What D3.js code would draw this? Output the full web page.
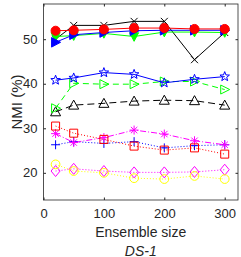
<!doctype html>
<html>
<head>
    <meta charset="UTF-8">
    <title>DS-1</title>
    <script src="https://d3js.org/d3.v7.min.js"></script>
    <style>
        body { margin: 0; background: #fff; }
        text { font-family: "Liberation Sans", Arial, sans-serif; fill: #262626; }
    </style>
</head>
<body>
<svg width="241" height="257"></svg>
<script>
    // ensemble sizes
    var sizes = [20, 50, 100, 150, 200, 250, 300];
    var xTicks = [0, 100, 200, 300];
    var yTicks = [20, 30, 40, 50];

    // NMI (%) per method
    var redCircle   = [51.9, 52.0, 52.2, 52.5, 52.5, 52.3, 52.3];
    var blackX      = [50.0, 53.1, 53.1, 54.0, 54.0, 45.4, 51.5];
    var blueTriR    = [49.3, 51.0, 51.5, 51.9, 52.0, 52.0, 52.0];
    var greenTriD   = [50.6, 50.8, 51.3, 50.6, 51.6, 51.6, 51.5];
    var blueStar    = [40.8, 41.3, 42.5, 42.1, 40.2, 41.0, 41.6];
    var greenTriO   = [34.5, 40.1, 39.9, 39.9, 40.5, 40.5, 38.7];
    var blackTriUp  = [33.7, 35.2, 35.6, 36.1, 36.3, 36.2, 35.2];
    var redSquare   = [30.5, 28.9, 27.5, 26.0, 25.1, 25.6, 24.2];
    var magStar     = [28.8, 26.8, 27.9, 29.6, 28.7, 27.2, 26.3];
    var bluePlus    = [26.3, 27.0, 26.6, 27.0, 25.6, 26.1, 26.3];
    var yellowO     = [21.9, 20.4, 20.0, 18.8, 18.6, 19.3, 18.6];
    var magDiamond  = [20.4, 20.9, 20.4, 20.1, 20.1, 20.2, 20.7];

    var svg = d3.select("svg");
    var pLeft = 43.5, pRight = 238, pTop = 4, pBottom = 200;

    var x = d3.scaleLinear().domain([0, 322]).range([pLeft, pRight]);
    var y = d3.scaleLinear().domain([13.9, 57.9]).range([pBottom, pTop]);

    // marker shapes
    function star(ro, ri) {
        var p = [];
        for (var i = 0; i < 10; i++) {
            var r = i % 2 ? ri : ro, a = Math.PI * i / 5 - Math.PI / 2;
            p.push([r * Math.cos(a), r * Math.sin(a)]);
        }
        return "M" + p.join("L") + "Z";
    }
    var shapes = {
        circle: d3.symbol(d3.symbolCircle, 64)(),
        circleO: d3.symbol(d3.symbolCircle, 60)(),
        x: "M-3.5,-3.5L3.5,3.5M-3.5,3.5L3.5,-3.5",
        triR: "M-4,-4.8L5,0L-4,4.8Z",
        triD: "M-4.5,-3.8L4.5,-3.8L0,4.8Z",
        star: star(5, 2.1),
        triRO: "M-4,-4.5L5,0L-4,4.5Z",
        triUp: "M0,-5L5,4L-5,4Z",
        square: "M-4,-4L4,-4L4,4L-4,4Z",
        asterisk: "M-4.5,0L4.5,0M0,-4.5L0,4.5M-3.2,-3.2L3.2,3.2M-3.2,3.2L3.2,-3.2",
        plus: "M-4.5,0L4.5,0M0,-4.5L0,4.5",
        diamond: "M0,-5.5L4.5,0L0,5.5L-4.5,0Z"
    };

    var series = [
        {v: magDiamond, c: "#ff00ff", dash: "1,2", m: "diamond", fill: false},
        {v: yellowO, c: "#ffff00", dash: "1,2", m: "circleO", fill: false},
        {v: bluePlus, c: "#0000ff", dash: "1,2", m: "plus", fill: false},
        {v: magStar, c: "#ff00ff", dash: "6,2,1,2", m: "asterisk", fill: false},
        {v: redSquare, c: "#ff0000", dash: "1,2", m: "square", fill: false},
        {v: blackTriUp, c: "#000000", dash: "7,4", m: "triUp", fill: false},
        {v: greenTriO, c: "#00ff00", dash: "6,4", m: "triRO", fill: false},
        {v: blueStar, c: "#0000ff", dash: null, m: "star", fill: false},
        {v: blackX, c: "#000000", dash: null, m: "x", fill: false},
        {v: greenTriD, c: "#00ff00", dash: null, m: "triD", fill: true},
        {v: blueTriR, c: "#0000ff", dash: null, m: "triR", fill: true},
        {v: redCircle, c: "#ff0000", dash: null, m: "circle", fill: true}
    ];

    var line = d3.line().x(function(d, i){ return x(sizes[i]); }).y(function(d){ return y(d); });

    series.forEach(function(s){
        svg.append("path")
           .attr("d", line(s.v))
           .attr("fill", "none")
           .attr("stroke", s.c)
           .attr("stroke-width", 1)
           .attr("stroke-dasharray", s.dash);
        svg.selectAll(null).data(s.v).enter()
           .append("path")
           .attr("transform", function(d, i){ return "translate(" + x(sizes[i]) + "," + y(d) + ")"; })
           .attr("d", shapes[s.m])
           .attr("fill", s.fill ? s.c : "none")
           .attr("stroke", s.c)
           .attr("stroke-width", 1);
    });

    // axes box with inward ticks
    var axisColor = "#262626";
    function styleAxis(g, labels) {
        g.select(".domain").remove();
        g.selectAll(".tick line").attr("stroke", axisColor);
        g.selectAll(".tick text").style("font-size", "13px").attr("fill", axisColor);
        if (!labels) g.selectAll(".tick text").remove();
    }
    svg.append("g").attr("transform", "translate(0," + pBottom + ")")
       .call(d3.axisBottom(x).tickValues(xTicks).tickSizeInner(-2.5).tickSizeOuter(0).tickPadding(9))
       .call(styleAxis, true);
    svg.append("g").attr("transform", "translate(0," + pTop + ")")
       .call(d3.axisTop(x).tickValues(xTicks).tickSizeInner(-2.5).tickSizeOuter(0))
       .call(styleAxis, false);
    svg.append("g").attr("transform", "translate(" + pLeft + ",0)")
       .call(d3.axisLeft(y).tickValues(yTicks).tickSizeInner(-2.5).tickSizeOuter(0).tickPadding(6))
       .call(styleAxis, true);
    svg.append("g").attr("transform", "translate(" + pRight + ",0)")
       .call(d3.axisRight(y).tickValues(yTicks).tickSizeInner(-2.5).tickSizeOuter(0))
       .call(styleAxis, false);

    svg.append("rect")
       .attr("x", pLeft).attr("y", pTop)
       .attr("width", pRight - pLeft).attr("height", pBottom - pTop)
       .attr("fill", "none").attr("stroke", axisColor).attr("stroke-width", 0.8);

    svg.append("text")
       .attr("x", (pLeft + pRight) / 2).attr("y", 236.5)
       .attr("text-anchor", "middle").style("font-size", "14px")
       .text("Ensemble size");
    svg.append("text")
       .attr("x", (pLeft + pRight) / 2).attr("y", 255.5)
       .attr("text-anchor", "middle").style("font-size", "14px").style("font-style", "italic")
       .text("DS-1");
    svg.append("text")
       .attr("transform", "translate(22," + ((pTop + pBottom) / 2) + ") rotate(-90)")
       .attr("text-anchor", "middle").style("font-size", "15px")
       .text("NMI (%)");
</script>
</body>
</html>
